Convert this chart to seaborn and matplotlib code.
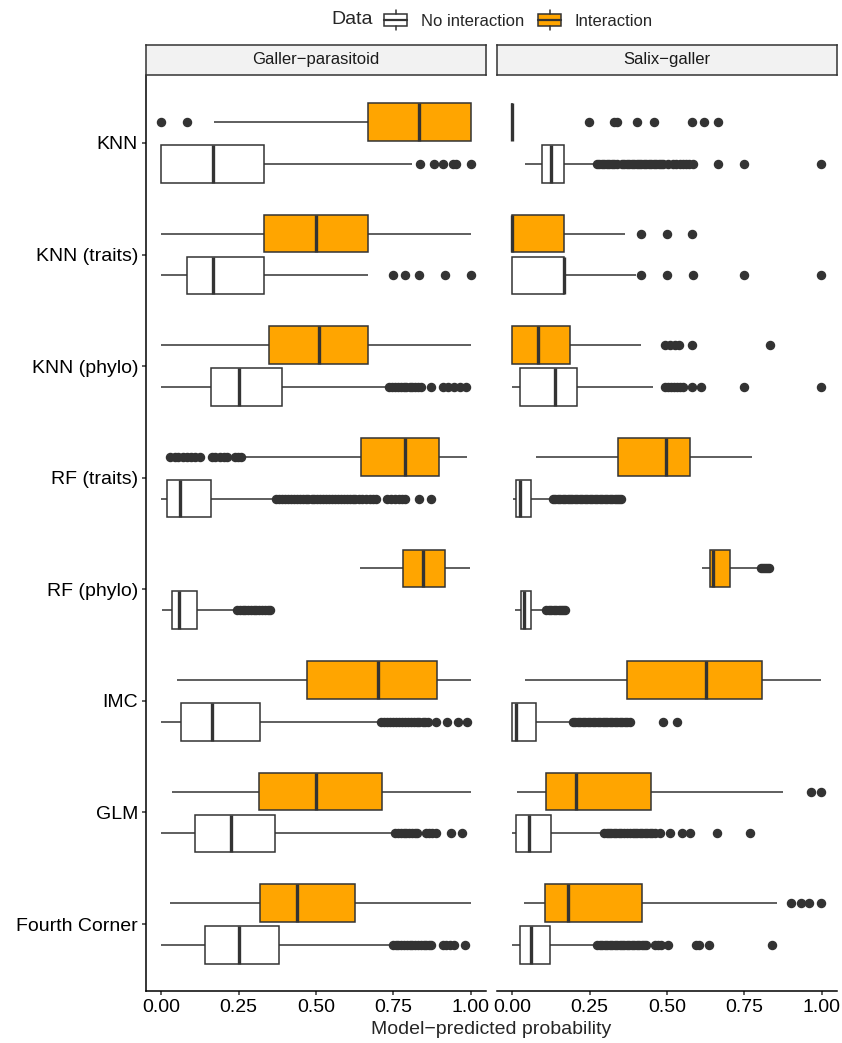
import numpy as np
import pandas as pd
import matplotlib
matplotlib.use("Agg")
import matplotlib.pyplot as plt
import seaborn as sns
from matplotlib.legend_handler import HandlerBase
from matplotlib.patches import Rectangle, Patch
from matplotlib.lines import Line2D

# ================================
# Data
# ================================
models = ["KNN", "KNN (traits)", "KNN (phylo)", "RF (traits)", "RF (phylo)",
          "IMC", "GLM", "Fourth Corner"]
panels = ["Galler\u2212parasitoid", "Salix\u2212galler"]
groups = ["Interaction", "No interaction"]
xticks = [0.0, 0.25, 0.5, 0.75, 1.0]
xtick_labels = ["0.00", "0.25", "0.50", "0.75", "1.00"]

# per model: [whisker low, Q1, median, Q3, whisker high]
gp_inter_stats = [
    [0.17, 0.667, 0.833, 1.0, 1.0],
    [0.0, 0.333, 0.5, 0.667, 1.0],
    [0.0, 0.349, 0.51, 0.667, 1.0],
    [0.268, 0.645, 0.787, 0.898, 0.99],
    [0.644, 0.782, 0.846, 0.919, 0.997],
    [0.05, 0.472, 0.702, 0.892, 1.0],
    [0.034, 0.317, 0.499, 0.713, 1.0],
    [0.029, 0.319, 0.438, 0.626, 1.0],
]
gp_inter_out = [
    [0.0, 0.083],
    [],
    [],
    [0.03, 0.045, 0.056, 0.07, 0.083, 0.095, 0.11, 0.125, 0.163, 0.175, 0.19,
     0.202, 0.214, 0.238, 0.248, 0.258],
    [],
    [],
    [],
    [],
]

gp_none_stats = [
    [0.0, 0.0, 0.167, 0.333, 0.81],
    [0.0, 0.083, 0.167, 0.333, 0.667],
    [0.0, 0.161, 0.25, 0.39, 0.722],
    [0.0, 0.02, 0.061, 0.16, 0.36],
    [0.004, 0.034, 0.059, 0.117, 0.233],
    [0.0, 0.063, 0.163, 0.321, 0.70],
    [0.0, 0.11, 0.226, 0.368, 0.744],
    [0.0, 0.143, 0.252, 0.382, 0.739],
]
gp_none_out = [
    [0.836, 0.883, 0.91, 0.944, 0.954, 1.0],
    [0.75, 0.787, 0.833, 0.917, 1.0],
    [0.737, 0.746, 0.755, 0.765, 0.774, 0.784, 0.793, 0.803, 0.812, 0.822,
     0.831, 0.84, 0.873, 0.91, 0.927, 0.948, 0.965, 0.984],
    [0.372, 0.381, 0.391, 0.4, 0.41, 0.419, 0.429, 0.438, 0.448, 0.457, 0.467,
     0.476, 0.486, 0.495, 0.505, 0.514, 0.524, 0.533, 0.543, 0.552, 0.562,
     0.571, 0.581, 0.59, 0.6, 0.609, 0.619, 0.626, 0.638, 0.65, 0.662, 0.674,
     0.685, 0.696, 0.729, 0.742, 0.755, 0.768, 0.778, 0.787, 0.833, 0.873],
    [0.245, 0.254, 0.263, 0.272, 0.281, 0.29, 0.299, 0.308, 0.317, 0.326,
     0.335, 0.344, 0.352],
    [0.712, 0.721, 0.731, 0.74, 0.75, 0.759, 0.769, 0.778, 0.788, 0.797, 0.807,
     0.816, 0.826, 0.835, 0.845, 0.854, 0.862, 0.889, 0.925, 0.959, 0.989],
    [0.757, 0.766, 0.775, 0.784, 0.793, 0.802, 0.811, 0.82, 0.826, 0.855,
     0.865, 0.876, 0.887, 0.938, 0.973],
    [0.749, 0.758, 0.767, 0.776, 0.785, 0.794, 0.803, 0.812, 0.821, 0.83,
     0.839, 0.848, 0.857, 0.866, 0.873, 0.91, 0.921, 0.935, 0.948, 0.981],
]

sg_inter_stats = [
    [0.0, 0.0, 0.0, 0.0, 0.0],
    [0.0, 0.0, 0.0, 0.166, 0.365],
    [0.0, 0.0, 0.083, 0.187, 0.415],
    [0.076, 0.341, 0.496, 0.576, 0.776],
    [0.614, 0.639, 0.65, 0.703, 0.795],
    [0.04, 0.37, 0.626, 0.809, 0.997],
    [0.017, 0.109, 0.205, 0.45, 0.877],
    [0.037, 0.106, 0.18, 0.419, 0.856],
]
sg_inter_out = [
    [0.248, 0.33, 0.34, 0.405, 0.458, 0.582, 0.62, 0.665],
    [0.418, 0.5, 0.582],
    [0.494, 0.51, 0.527, 0.54, 0.582, 0.832],
    [],
    [0.803, 0.81, 0.817, 0.824, 0.831],
    [],
    [0.965, 0.997],
    [0.902, 0.935, 0.959, 0.997],
]

sg_none_stats = [
    [0.042, 0.096, 0.126, 0.166, 0.268],
    [0.0, 0.0, 0.166, 0.166, 0.40],
    [0.0, 0.026, 0.139, 0.209, 0.456],
    [0.002, 0.014, 0.024, 0.06, 0.123],
    [0.008, 0.028, 0.037, 0.06, 0.101],
    [0.0, 0.0, 0.013, 0.077, 0.19],
    [0.001, 0.012, 0.056, 0.125, 0.284],
    [0.001, 0.024, 0.06, 0.123, 0.262],
]
sg_none_out = [
    [0.274, 0.282, 0.29, 0.298, 0.306, 0.314, 0.322, 0.33, 0.338, 0.354, 0.362,
     0.37, 0.378, 0.386, 0.394, 0.402, 0.41, 0.418, 0.426, 0.434, 0.442, 0.45,
     0.458, 0.466, 0.474, 0.482, 0.488, 0.504, 0.52, 0.53, 0.542, 0.552, 0.562,
     0.572, 0.585, 0.666, 0.748, 0.997],
    [0.418, 0.5, 0.583, 0.748, 0.997],
    [0.494, 0.503, 0.512, 0.522, 0.532, 0.543, 0.553, 0.582, 0.609, 0.748, 0.997],
    [0.131, 0.139, 0.147, 0.155, 0.163, 0.171, 0.179, 0.187, 0.195, 0.203,
     0.211, 0.219, 0.227, 0.235, 0.243, 0.251, 0.259, 0.267, 0.275, 0.283,
     0.291, 0.299, 0.307, 0.315, 0.323, 0.331, 0.339, 0.346, 0.352],
    [0.11, 0.118, 0.126, 0.134, 0.142, 0.15, 0.158, 0.165, 0.171],
    [0.196, 0.204, 0.212, 0.22, 0.228, 0.236, 0.244, 0.252, 0.26, 0.268, 0.276,
     0.284, 0.292, 0.3, 0.308, 0.316, 0.324, 0.332, 0.34, 0.348, 0.356, 0.364,
     0.372, 0.381, 0.488, 0.534],
    [0.297, 0.305, 0.313, 0.321, 0.329, 0.337, 0.345, 0.353, 0.361, 0.37,
     0.381, 0.389, 0.397, 0.405, 0.413, 0.421, 0.429, 0.437, 0.445, 0.453,
     0.461, 0.477, 0.51, 0.55, 0.574, 0.662, 0.768],
    [0.275, 0.283, 0.291, 0.299, 0.307, 0.315, 0.323, 0.331, 0.339, 0.347,
     0.355, 0.363, 0.371, 0.379, 0.387, 0.395, 0.403, 0.411, 0.419, 0.427,
     0.434, 0.461, 0.47, 0.482, 0.504, 0.594, 0.605, 0.635, 0.841],
]

summaries = {
    (panels[0], "Interaction"): (gp_inter_stats, gp_inter_out),
    (panels[0], "No interaction"): (gp_none_stats, gp_none_out),
    (panels[1], "Interaction"): (sg_inter_stats, sg_inter_out),
    (panels[1], "No interaction"): (sg_none_stats, sg_none_out),
}


# Build a long table whose quartiles / whiskers reproduce the summaries
def box_values(stats, outliers, k=200):
    lo, q1, med, q3, hi = stats
    return [lo] + [q1] * k + [med] * k + [q3] * k + [hi] + list(outliers)


rows = []
for (panel, grp), (stats_list, out_list) in summaries.items():
    for model, st, out in zip(models, stats_list, out_list):
        for v in box_values(st, out):
            rows.append((panel, model, grp, v))
df = pd.DataFrame(rows, columns=["panel", "model", "Data", "prob"])

# ================================
# Plot
# ================================
sns.set_style("white")
plt.rcParams["font.family"] = ["Liberation Sans", "DejaVu Sans"]

W, H = 842, 1043
fig = plt.figure(figsize=(W / 100, H / 100), dpi=100)

pal = {"Interaction": "#FFA500", "No interaction": "white"}
dark = "#333333"

ax_bottom, ax_top = 991, 76
panel_left = [145.7, 496.7]
panel_w = 340.3

axes = []
for i, panel in enumerate(panels):
    ax = fig.add_axes([panel_left[i] / W, 1 - ax_bottom / H,
                       panel_w / W, (ax_bottom - ax_top) / H])
    sub = df[df["panel"] == panel]
    sns.boxplot(data=sub, x="prob", y="model", hue="Data", order=models,
                hue_order=groups, palette=pal, orient="h", width=0.75, gap=0.1,
                saturation=1, linecolor=dark, linewidth=1.1, fliersize=5.8,
                showcaps=False,
                flierprops=dict(marker="o", markerfacecolor=dark,
                                markeredgecolor=dark),
                medianprops=dict(linewidth=2.4),
                legend=False, ax=ax)
    ax.set_xlim(-0.05, 1.05)
    ax.set_ylim(7.6, -0.6)
    ax.set_xticks(xticks)
    ax.set_xticklabels(xtick_labels)
    ax.set_xlabel("")
    ax.set_ylabel("")
    for s in ["top", "right"]:
        ax.spines[s].set_visible(False)
    ax.spines["bottom"].set_color("black")
    ax.spines["bottom"].set_linewidth(1.1)
    ax.tick_params(axis="x", length=3, width=1.1, color=dark, pad=2.5,
                   labelsize=14, labelcolor="black", bottom=True)
    if i == 0:
        ax.spines["left"].set_color("black")
        ax.spines["left"].set_linewidth(1.1)
        ax.tick_params(axis="y", length=3, width=1.1, color=dark, pad=2.5,
                       labelsize=14, labelcolor="black", left=True)
    else:
        ax.spines["left"].set_visible(False)
        ax.tick_params(axis="y", left=False, labelleft=False)
    axes.append(ax)

    # facet strip
    strip = fig.add_axes([panel_left[i] / W, 1 - 75 / H, panel_w / W, 30.3 / H])
    strip.set_facecolor("#F2F2F2")
    strip.set_xticks([])
    strip.set_yticks([])
    for s in strip.spines.values():
        s.set_color(dark)
        s.set_linewidth(1.1)
    strip.text(0.5, 0.5, panel, ha="center", va="center", fontsize=12,
               color="#1A1A1A", transform=strip.transAxes)

fig.text(491 / W, 1 - 1030 / H, "Model\u2212predicted probability",
         ha="center", va="center", fontsize=14)


# legend with box-shaped keys
class BoxKey(HandlerBase):
    def create_artists(self, legend, orig_handle, xdescent, ydescent,
                       width, height, fontsize, trans):
        x0, y0 = -xdescent, -ydescent
        box = Rectangle((x0, y0 + 0.18 * height), width, 0.64 * height,
                        facecolor=orig_handle.get_facecolor(), edgecolor=dark,
                        lw=1.1, transform=trans)
        mid = Line2D([x0, x0 + width], [y0 + 0.5 * height] * 2, color=dark,
                     lw=1.6, transform=trans)
        top = Line2D([x0 + width / 2] * 2, [y0 + 0.82 * height, y0 + height],
                     color=dark, lw=1.1, transform=trans)
        bot = Line2D([x0 + width / 2] * 2, [y0, y0 + 0.18 * height],
                     color=dark, lw=1.1, transform=trans)
        return [box, mid, top, bot]


handles = [Patch(facecolor=pal["No interaction"]), Patch(facecolor=pal["Interaction"])]
fig.legend(handles, ["No interaction", "Interaction"], ncol=2, loc="center",
           bbox_to_anchor=(518.7 / W, 1 - 20 / H), frameon=False, fontsize=12,
           handler_map={Patch: BoxKey()}, handlelength=1.38, handleheight=1.38,
           handletextpad=0.82, columnspacing=0.84, borderpad=0.2)
fig.text(331.7 / W, 1 - 20 / H, "Data", ha="left", va="center", fontsize=14)

fig.savefig("out.png", dpi=100)
